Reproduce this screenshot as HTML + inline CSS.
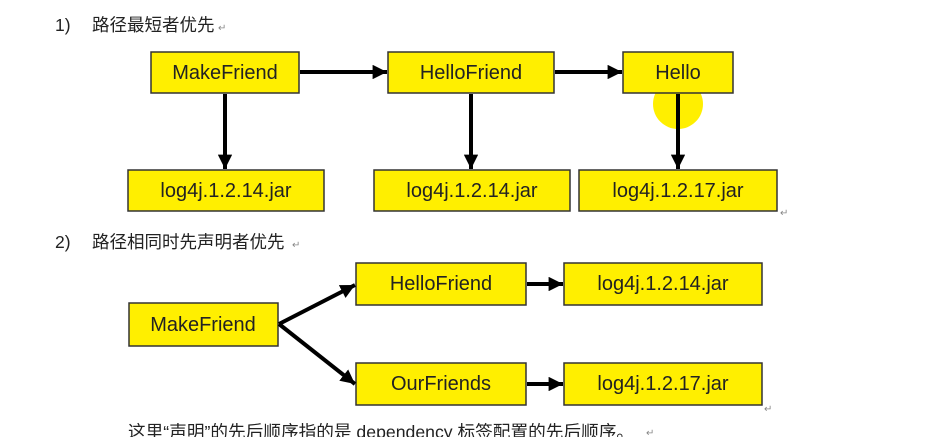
<!DOCTYPE html>
<html><head><meta charset="utf-8"><style>
html,body{margin:0;padding:0;background:#fff;width:936px;height:437px;overflow:hidden}
svg{display:block}
.t{font-family:"Liberation Sans","Noto Sans CJK SC",sans-serif;font-size:17.5px;fill:#222}
.b{fill:#ffef00;stroke:#333;stroke-width:1.5}
.l{font-family:"Liberation Sans",sans-serif;font-size:20px;fill:#222;text-anchor:middle}
.a{stroke:#000;stroke-width:4;fill:none}
.r{font-family:"Liberation Sans",sans-serif;font-size:10px;fill:#888}
</style></head><body>
<svg width="936" height="437" viewBox="0 0 936 437" xmlns="http://www.w3.org/2000/svg">
<defs><marker id="m" markerWidth="3.6" markerHeight="3.6" refX="3.6" refY="1.8" orient="auto" markerUnits="strokeWidth"><path d="M0,0 L3.6,1.8 L0,3.6 z" fill="#000"/></marker></defs>
<text class="t" x="55" y="31">1)</text>
<text class="t" x="92" y="31">路径最短者优先</text><text class="r" x="218" y="31">↵</text>
<circle cx="678" cy="104" r="25" fill="#ffef00"/>
<rect class="b" x="151" y="52" width="148" height="41"/><text class="l" x="225" y="79">MakeFriend</text>
<rect class="b" x="388" y="52" width="166" height="41"/><text class="l" x="471" y="79">HelloFriend</text>
<rect class="b" x="623" y="52" width="110" height="41"/><text class="l" x="678" y="79">Hello</text>
<rect class="b" x="128" y="170" width="196" height="41"/><text class="l" x="226" y="197">log4j.1.2.14.jar</text>
<rect class="b" x="374" y="170" width="196" height="41"/><text class="l" x="472" y="197">log4j.1.2.14.jar</text>
<rect class="b" x="579" y="170" width="198" height="41"/><text class="l" x="678" y="197">log4j.1.2.17.jar</text>
<line class="a" x1="300" y1="72" x2="387" y2="72" marker-end="url(#m)"/>
<line class="a" x1="555" y1="72" x2="622" y2="72" marker-end="url(#m)"/>
<line class="a" x1="225" y1="94" x2="225" y2="169" marker-end="url(#m)"/>
<line class="a" x1="471" y1="94" x2="471" y2="169" marker-end="url(#m)"/>
<line class="a" x1="678" y1="94" x2="678" y2="169" marker-end="url(#m)"/>
<text class="r" x="780" y="216">↵</text>
<text class="t" x="55" y="248">2)</text>
<text class="t" x="92" y="248">路径相同时先声明者优先</text><text class="r" x="292" y="248">↵</text>
<rect class="b" x="129" y="303" width="149" height="43"/><text class="l" x="203" y="331">MakeFriend</text>
<rect class="b" x="356" y="263" width="170" height="42"/><text class="l" x="441" y="290">HelloFriend</text>
<rect class="b" x="356" y="363" width="170" height="42"/><text class="l" x="441" y="390">OurFriends</text>
<rect class="b" x="564" y="263" width="198" height="42"/><text class="l" x="663" y="290">log4j.1.2.14.jar</text>
<rect class="b" x="564" y="363" width="198" height="42"/><text class="l" x="663" y="390">log4j.1.2.17.jar</text>
<line class="a" x1="279" y1="324" x2="355" y2="285" marker-end="url(#m)"/>
<line class="a" x1="279" y1="324" x2="355" y2="384" marker-end="url(#m)"/>
<line class="a" x1="527" y1="284" x2="563" y2="284" marker-end="url(#m)"/>
<line class="a" x1="527" y1="384" x2="563" y2="384" marker-end="url(#m)"/>
<text class="r" x="764" y="412">↵</text>
<text class="t" x="128" y="438" textLength="506" lengthAdjust="spacingAndGlyphs">这里“声明”的先后顺序指的是 dependency 标签配置的先后顺序。</text>
<text class="r" x="646" y="436">↵</text>
</svg>
</body></html>
